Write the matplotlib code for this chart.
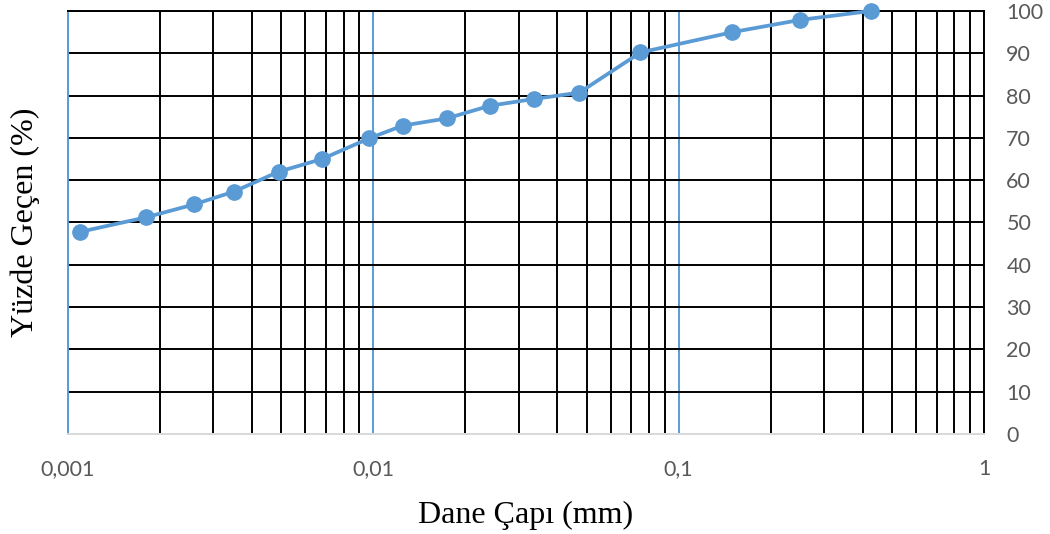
import matplotlib
matplotlib.use("Agg")
import matplotlib.pyplot as plt
from matplotlib.ticker import FixedLocator, NullFormatter

# Data
grain_size_mm = [0.0011, 0.0018, 0.0026, 0.0035, 0.0049, 0.0068, 0.0097,
                 0.0125, 0.0174, 0.0241, 0.0336, 0.0473, 0.075, 0.15, 0.25, 0.425]
percent_passing = [47.8, 51.2, 54.3, 57.3, 62.0, 65.0, 69.9,
                   72.9, 74.6, 77.6, 79.2, 80.7, 90.2, 95.0, 97.9, 100.0]
x_major_ticks = [0.001, 0.01, 0.1, 1]
x_tick_labels = ["0,001", "0,01", "0,1", "1"]
x_minor_ticks = [m * d for d in (0.001, 0.01, 0.1) for m in range(2, 10)]
y_ticks = list(range(0, 101, 10))
y_tick_labels = [str(v) for v in y_ticks]

BLUE = "#5B9BD5"
GRAY_TXT = "#595959"

fig = plt.figure(figsize=(10.5, 5.34), dpi=100)
ax = fig.add_axes([0.0645, 0.1873, 0.8727, 0.7921])

ax.set_xscale("log")
ax.set_xlim(0.001, 1)
ax.set_ylim(0, 100)

ax.xaxis.set_major_locator(FixedLocator(x_major_ticks))
ax.xaxis.set_minor_locator(FixedLocator(x_minor_ticks))
ax.xaxis.set_minor_formatter(NullFormatter())
ax.set_xticklabels(x_tick_labels)
ax.yaxis.set_major_locator(FixedLocator(y_ticks))
ax.set_yticklabels(y_tick_labels)
ax.yaxis.tick_right()

ax.tick_params(axis="both", which="both", length=0)
ax.tick_params(axis="x", which="major", pad=18, labelsize=15.5, labelcolor=GRAY_TXT)
ax.tick_params(axis="y", which="major", pad=16, labelsize=15.5, labelcolor=GRAY_TXT)
for lbl in ax.get_xticklabels() + ax.get_yticklabels():
    lbl.set_fontfamily("Lato")

ax.grid(True, axis="x", which="minor", color="black", linewidth=1.4)
ax.grid(True, axis="x", which="major", color=BLUE, linewidth=1.4)
ax.grid(True, axis="y", which="major", color="black", linewidth=1.4)
ax.set_axisbelow(True)

for i, gl in enumerate(ax.get_xgridlines()):
    if i == len(x_major_ticks) - 1:
        gl.set_color("black")
ax.get_ygridlines()[0].set_color("#D9D9D9")

spine_colors = {"left": BLUE, "right": "black", "top": "black", "bottom": "#D9D9D9"}
for side, col in spine_colors.items():
    ax.spines[side].set_visible(True)
    ax.spines[side].set_color(col)
    ax.spines[side].set_linewidth(1.4)
    ax.spines[side].set_zorder(1.5)

ax.plot(grain_size_mm, percent_passing, color=BLUE, linewidth=2.7,
        marker="o", markersize=11, markerfacecolor=BLUE, markeredgecolor=BLUE,
        clip_on=False, zorder=5)

ax.set_xlabel("Dane Çapı (mm)", fontfamily="Liberation Serif", fontsize=23,
              color="black", labelpad=16)
fig.text(0.024, 0.584, "Yüzde Geçen (%)", rotation=90, fontfamily="Liberation Serif",
         fontsize=23, color="black", ha="center", va="center")

fig.savefig("out.png", dpi=100)
